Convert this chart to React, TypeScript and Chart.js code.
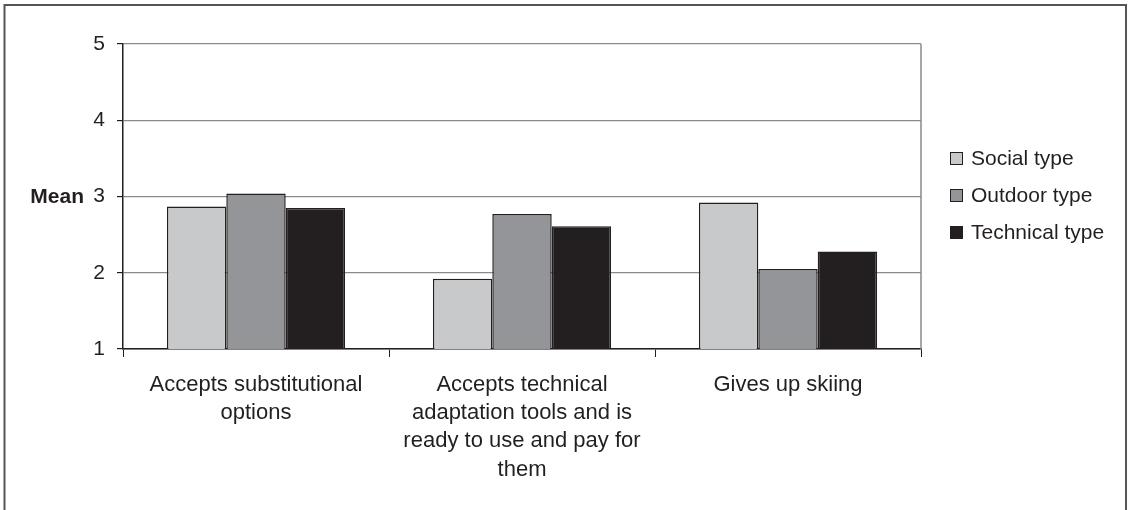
import React, { useEffect, useRef } from "react";
import { Chart, registerables } from "chart.js";

Chart.register(...registerables);

const categories: string[][] = [
  ["Accepts substitutional", "options"],
  ["Accepts technical", "adaptation tools and is", "ready to use and pay for", "them"],
  ["Gives up skiing"],
];
const seriesNames = ["Social type", "Outdoor type", "Technical type"];
const socialValues = [2.87, 1.92, 2.92];
const outdoorValues = [3.04, 2.77, 2.05];
const technicalValues = [2.85, 2.61, 2.28];
const seriesColors = ["#c8c9cb", "#949598", "#231f20"];
const yTicks = [1, 2, 3, 4, 5];
const yTitle = "Mean";

const FONT = '"Liberation Sans", Arial, sans-serif';
const DARK = "#231f20";

const decorPlugin = {
  id: "decor",
  afterDraw(chart: any) {
    const ctx = chart.ctx;
    const { right, top, bottom } = chart.chartArea;
    ctx.save();
    // right plot border
    ctx.strokeStyle = "#8a8a8a";
    ctx.lineWidth = 1.5;
    ctx.beginPath();
    ctx.moveTo(right, top);
    ctx.lineTo(right, bottom);
    ctx.stroke();
    // outer frame
    ctx.strokeStyle = "#555555";
    ctx.lineWidth = 2;
    ctx.strokeRect(4.5, 5, 1121.5, 530);
    // y title
    ctx.fillStyle = DARK;
    ctx.font = `bold 21px ${FONT}`;
    ctx.textAlign = "right";
    ctx.textBaseline = "middle";
    ctx.fillText(yTitle, 84, chart.scales.y.getPixelForValue(3) + 1);
    // legend
    ctx.font = `21px ${FONT}`;
    ctx.textAlign = "left";
    const centerY = (top + bottom) / 2;
    const spacing = 37;
    chart.data.datasets.forEach((ds: any, i: number) => {
      const cy = centerY + (i - 1) * spacing - 1;
      const bx = 950;
      ctx.fillStyle = ds.backgroundColor;
      ctx.fillRect(bx, cy - 6.5, 13, 13);
      ctx.strokeStyle = DARK;
      ctx.lineWidth = 1;
      ctx.strokeRect(bx + 0.5, cy - 6, 12, 12);
      ctx.fillStyle = DARK;
      ctx.fillText(ds.label, 971, cy + 1);
    });
    ctx.restore();
  },
};

export default function App() {
  const ref = useRef<HTMLCanvasElement | null>(null);
  useEffect(() => {
    if (!ref.current) return;
    const values = [socialValues, outdoorValues, technicalValues];
    const chart = new Chart(ref.current, {
      type: "bar",
      data: {
        labels: categories,
        datasets: seriesNames.map((name, i) => ({
          label: name,
          data: values[i],
          backgroundColor: seriesColors[i],
          borderColor: DARK,
          borderWidth: 1.5,
          categoryPercentage: 0.67,
          barPercentage: 1,
        })),
      },
      options: {
        animation: false,
        responsive: false,
        layout: { padding: { left: 0, right: 208, top: 44, bottom: 0 } },
        plugins: { legend: { display: false }, tooltip: { enabled: false } },
        scales: {
          x: {
            afterFit: (s: any) => {
              s.height = 161;
            },
            grid: {
              offset: true,
              drawOnChartArea: false,
              tickLength: 8,
              tickColor: DARK,
              lineWidth: 1,
            },
            border: { color: DARK, width: 1.5 },
            ticks: {
              color: DARK,
              font: { family: FONT, size: 22, lineHeight: 1.28 },
              padding: 14,
              maxRotation: 0,
              autoSkip: false,
            },
          },
          y: {
            min: 1,
            max: 5,
            afterFit: (s: any) => {
              s.width = 123;
            },
            afterBuildTicks: (s: any) => {
              s.ticks = yTicks.map((v) => ({ value: v }));
            },
            grid: {
              color: "#8a8a8a",
              lineWidth: 1.2,
              tickLength: 6,
              tickColor: DARK,
            },
            border: { color: DARK, width: 1.5 },
            ticks: {
              color: DARK,
              font: { family: FONT, size: 21 },
              padding: 12,
            },
          },
        },
      },
      plugins: [decorPlugin],
    });
    return () => chart.destroy();
  }, []);
  return (
    <div style={{ position: "absolute", left: 0, top: 0, width: 1129, height: 510, background: "#fff" }}>
      <canvas ref={ref} width={1129} height={510} />
    </div>
  );
}
